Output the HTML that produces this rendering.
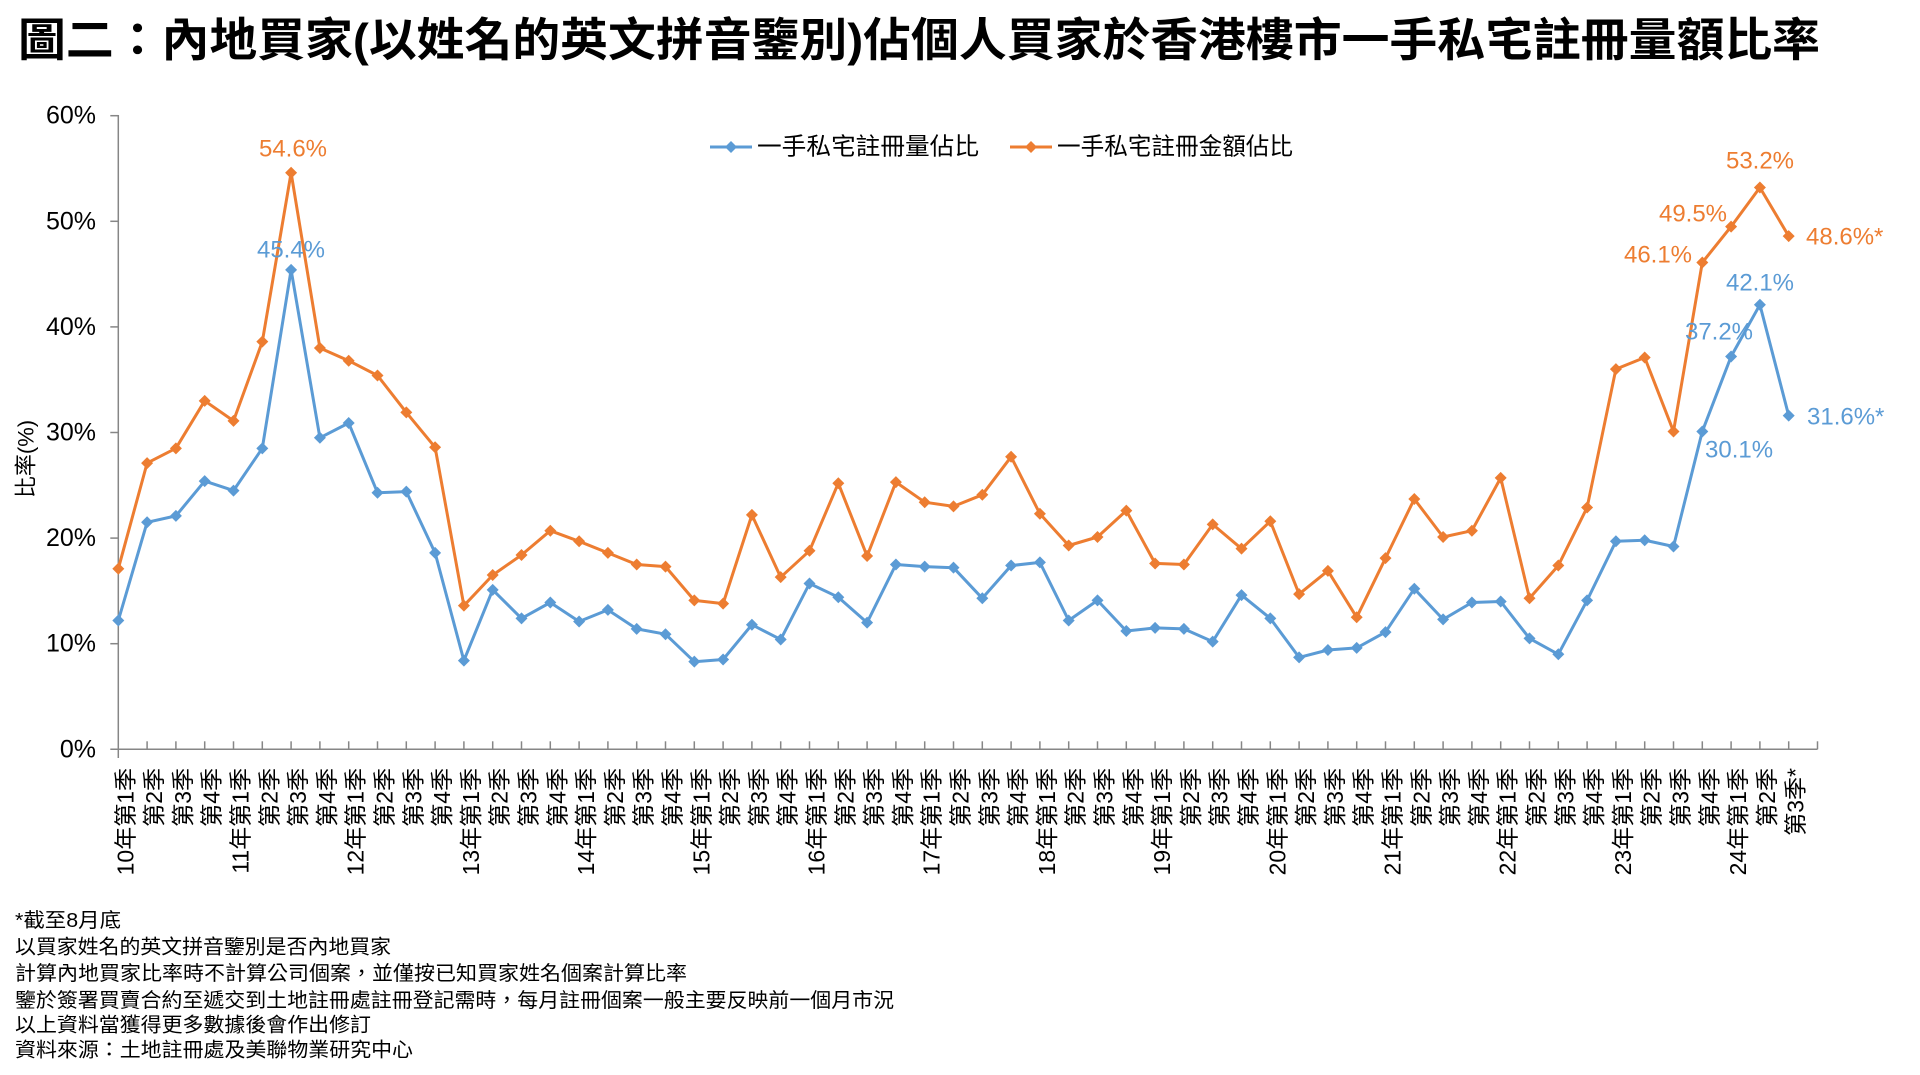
<!DOCTYPE html>
<html><head><meta charset="utf-8">
<style>
html,body{margin:0;padding:0;background:#fff;}
svg{display:block;font-family:"Liberation Sans","Noto Sans CJK TC",sans-serif;}
</style></head>
<body>
<svg id="s" width="1920" height="1075" viewBox="0 0 1920 1075" xmlns="http://www.w3.org/2000/svg">
<text x="18" y="56" font-size="46" font-weight="bold" fill="#000" textLength="1802" lengthAdjust="spacingAndGlyphs">圖二：內地買家(以姓名的英文拼音鑒別)佔個人買家於香港樓市一手私宅註冊量額比率</text>

<g font-size="25" fill="#000" text-anchor="end" dominant-baseline="central">
<text x="96" y="115.7">60%</text>
<text x="96" y="221.3">50%</text>
<text x="96" y="326.9">40%</text>
<text x="96" y="432.5">30%</text>
<text x="96" y="538.1">20%</text>
<text x="96" y="643.7">10%</text>
<text x="96" y="749.3">0%</text>
</g>
<text transform="translate(26,459) rotate(-90)" font-size="22" text-anchor="middle" dominant-baseline="central">比率(%)</text>

<g id="axes" stroke="#868686" stroke-width="1.5"></g>
<g id="series"></g>

<!-- legend -->
<line x1="710" y1="147" x2="752" y2="147" stroke="#5B9BD5" stroke-width="3"/>
<path d="M731 141 L737 147 L731 153 L725 147Z" fill="#5B9BD5"/>
<text x="757" y="147" font-size="24" dominant-baseline="central" textLength="222" lengthAdjust="spacingAndGlyphs">一手私宅註冊量佔比</text>
<line x1="1010" y1="147" x2="1052" y2="147" stroke="#ED7D31" stroke-width="3"/>
<path d="M1031 141 L1037 147 L1031 153 L1025 147Z" fill="#ED7D31"/>
<text x="1057" y="147" font-size="24" dominant-baseline="central" textLength="236" lengthAdjust="spacingAndGlyphs">一手私宅註冊金額佔比</text>

<!-- data labels -->
<g font-size="24" dominant-baseline="central">
<text x="293" y="149" fill="#ED7D31" text-anchor="middle">54.6%</text>
<text x="291" y="250" fill="#5B9BD5" text-anchor="middle">45.4%</text>
<text x="1760" y="161" fill="#ED7D31" text-anchor="middle">53.2%</text>
<text x="1693" y="214" fill="#ED7D31" text-anchor="middle">49.5%</text>
<text x="1658" y="255" fill="#ED7D31" text-anchor="middle">46.1%</text>
<text x="1806" y="237" fill="#ED7D31">48.6%*</text>
<text x="1760" y="283" fill="#5B9BD5" text-anchor="middle">42.1%</text>
<text x="1719" y="332" fill="#5B9BD5" text-anchor="middle">37.2%</text>
<text x="1705" y="450" fill="#5B9BD5">30.1%</text>
<text x="1807" y="417" fill="#5B9BD5">31.6%*</text>
</g>

<!-- category labels -->
<g font-size="23" fill="#000" text-anchor="end" dominant-baseline="central">
<text transform="translate(125.3,768) rotate(-90)">10年第1季</text>
<text transform="translate(154.1,768) rotate(-90)">第2季</text>
<text transform="translate(182.9,768) rotate(-90)">第3季</text>
<text transform="translate(211.7,768) rotate(-90)">第4季</text>
<text transform="translate(240.5,768) rotate(-90)">11年第1季</text>
<text transform="translate(269.3,768) rotate(-90)">第2季</text>
<text transform="translate(298.1,768) rotate(-90)">第3季</text>
<text transform="translate(326.9,768) rotate(-90)">第4季</text>
<text transform="translate(355.7,768) rotate(-90)">12年第1季</text>
<text transform="translate(384.5,768) rotate(-90)">第2季</text>
<text transform="translate(413.3,768) rotate(-90)">第3季</text>
<text transform="translate(442.1,768) rotate(-90)">第4季</text>
<text transform="translate(470.9,768) rotate(-90)">13年第1季</text>
<text transform="translate(499.7,768) rotate(-90)">第2季</text>
<text transform="translate(528.5,768) rotate(-90)">第3季</text>
<text transform="translate(557.3,768) rotate(-90)">第4季</text>
<text transform="translate(586.1,768) rotate(-90)">14年第1季</text>
<text transform="translate(614.9,768) rotate(-90)">第2季</text>
<text transform="translate(643.7,768) rotate(-90)">第3季</text>
<text transform="translate(672.5,768) rotate(-90)">第4季</text>
<text transform="translate(701.3,768) rotate(-90)">15年第1季</text>
<text transform="translate(730.1,768) rotate(-90)">第2季</text>
<text transform="translate(758.9,768) rotate(-90)">第3季</text>
<text transform="translate(787.7,768) rotate(-90)">第4季</text>
<text transform="translate(816.5,768) rotate(-90)">16年第1季</text>
<text transform="translate(845.3,768) rotate(-90)">第2季</text>
<text transform="translate(874.1,768) rotate(-90)">第3季</text>
<text transform="translate(902.9,768) rotate(-90)">第4季</text>
<text transform="translate(931.7,768) rotate(-90)">17年第1季</text>
<text transform="translate(960.5,768) rotate(-90)">第2季</text>
<text transform="translate(989.3,768) rotate(-90)">第3季</text>
<text transform="translate(1018.1,768) rotate(-90)">第4季</text>
<text transform="translate(1046.9,768) rotate(-90)">18年第1季</text>
<text transform="translate(1075.7,768) rotate(-90)">第2季</text>
<text transform="translate(1104.5,768) rotate(-90)">第3季</text>
<text transform="translate(1133.3,768) rotate(-90)">第4季</text>
<text transform="translate(1162.1,768) rotate(-90)">19年第1季</text>
<text transform="translate(1190.9,768) rotate(-90)">第2季</text>
<text transform="translate(1219.7,768) rotate(-90)">第3季</text>
<text transform="translate(1248.5,768) rotate(-90)">第4季</text>
<text transform="translate(1277.3,768) rotate(-90)">20年第1季</text>
<text transform="translate(1306.1,768) rotate(-90)">第2季</text>
<text transform="translate(1334.9,768) rotate(-90)">第3季</text>
<text transform="translate(1363.7,768) rotate(-90)">第4季</text>
<text transform="translate(1392.5,768) rotate(-90)">21年第1季</text>
<text transform="translate(1421.3,768) rotate(-90)">第2季</text>
<text transform="translate(1450.1,768) rotate(-90)">第3季</text>
<text transform="translate(1478.9,768) rotate(-90)">第4季</text>
<text transform="translate(1507.7,768) rotate(-90)">22年第1季</text>
<text transform="translate(1536.5,768) rotate(-90)">第2季</text>
<text transform="translate(1565.3,768) rotate(-90)">第3季</text>
<text transform="translate(1594.1,768) rotate(-90)">第4季</text>
<text transform="translate(1622.9,768) rotate(-90)">23年第1季</text>
<text transform="translate(1651.7,768) rotate(-90)">第2季</text>
<text transform="translate(1680.5,768) rotate(-90)">第3季</text>
<text transform="translate(1709.3,768) rotate(-90)">第4季</text>
<text transform="translate(1738.1,768) rotate(-90)">24年第1季</text>
<text transform="translate(1766.9,768) rotate(-90)">第2季</text>
<text transform="translate(1795.7,768) rotate(-90)">第3季*</text>
</g>

<!-- notes -->
<g font-size="20" fill="#000" dominant-baseline="central">
<text x="15" y="921" textLength="106" lengthAdjust="spacingAndGlyphs">*截至8月底</text>
<text x="15" y="947.5" textLength="376" lengthAdjust="spacingAndGlyphs">以買家姓名的英文拼音鑒別是否內地買家</text>
<text x="15" y="974" textLength="672" lengthAdjust="spacingAndGlyphs">計算內地買家比率時不計算公司個案，並僅按已知買家姓名個案計算比率</text>
<text x="15" y="1001" textLength="879" lengthAdjust="spacingAndGlyphs">鑒於簽署買賣合約至遞交到土地註冊處註冊登記需時，每月註冊個案一般主要反映前一個月市況</text>
<text x="15" y="1025.6" textLength="356" lengthAdjust="spacingAndGlyphs">以上資料當獲得更多數據後會作出修訂</text>
<text x="15" y="1050.5" textLength="398" lengthAdjust="spacingAndGlyphs">資料來源：土地註冊處及美聯物業研究中心</text>
</g>
</svg>
<script>
(function(){
var NS="http://www.w3.org/2000/svg";
function el(t,a,p){var e=document.createElementNS(NS,t);for(var k in a)e.setAttribute(k,a[k]);p.appendChild(e);return e;}
var X0=118.3,DX=28.8,Y0=749.3,DY=10.56;
var ax=document.getElementById('axes');
el('line',{x1:X0,y1:115,x2:X0,y2:758},ax);
el('line',{x1:X0-8,y1:Y0,x2:X0+59*DX,y2:Y0},ax);
for(var v=10;v<=60;v+=10){el('line',{x1:X0-8,y1:Y0-v*DY,x2:X0,y2:Y0-v*DY},ax);}
for(var k=1;k<=59;k++){el('line',{x1:X0+k*DX,y1:Y0-8,x2:X0+k*DX,y2:Y0},ax);}
var blue=[12.2,21.5,22.1,25.4,24.5,28.5,45.4,29.5,30.9,24.3,24.4,18.6,8.4,15.1,12.4,13.9,12.1,13.2,11.4,10.9,8.3,8.5,11.8,10.4,15.7,14.4,12.0,17.5,17.3,17.2,14.3,17.4,17.7,12.2,14.1,11.2,11.5,11.4,10.2,14.6,12.4,8.7,9.4,9.6,11.1,15.2,12.3,13.9,14.0,10.5,9.0,14.1,19.7,19.8,19.2,30.1,37.2,42.1,31.6];
var orng=[17.1,27.1,28.5,33.0,31.1,38.6,54.6,38.0,36.8,35.4,31.9,28.6,13.6,16.5,18.4,20.7,19.7,18.6,17.5,17.3,14.1,13.8,22.2,16.3,18.8,25.2,18.3,25.3,23.4,23.0,24.1,27.7,22.3,19.3,20.1,22.6,17.6,17.5,21.3,19.0,21.6,14.7,16.9,12.5,18.1,23.7,20.1,20.7,25.7,14.3,17.4,22.9,36.0,37.1,30.1,46.1,49.5,53.2,48.6];
var g=document.getElementById('series');
function draw(d,c){var pts=[];for(var i=0;i<d.length;i++){pts.push((X0+i*DX).toFixed(1)+','+(Y0-d[i]*DY).toFixed(1));}
el('polyline',{points:pts.join(' '),fill:'none',stroke:c,'stroke-width':3,'stroke-linejoin':'round'},g);
for(var i=0;i<d.length;i++){var x=X0+i*DX,y=Y0-d[i]*DY;el('path',{d:'M'+x+' '+(y-6)+' L'+(x+6)+' '+y+' L'+x+' '+(y+6)+' L'+(x-6)+' '+y+'Z',fill:c},g);}}
draw(orng,'#ED7D31');draw(blue,'#5B9BD5');
})();
</script>
</body></html>
